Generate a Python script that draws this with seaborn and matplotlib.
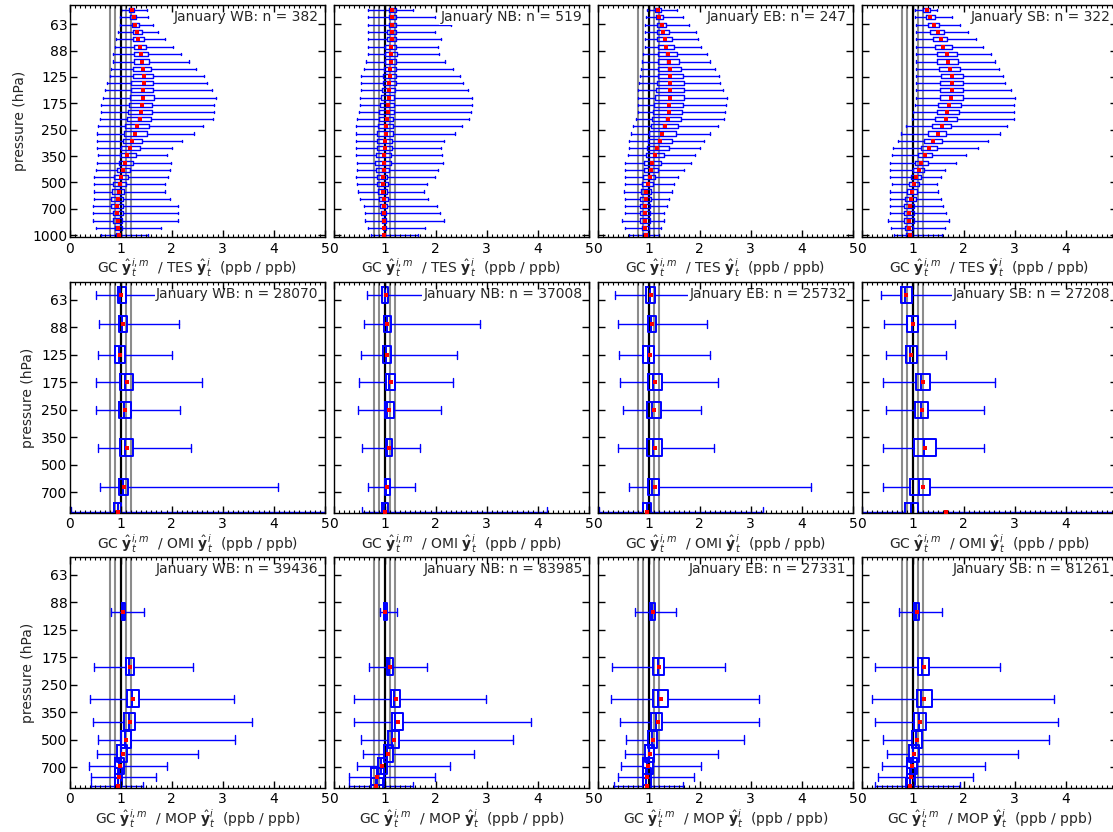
import matplotlib
matplotlib.use("Agg")
import matplotlib.pyplot as plt
from matplotlib.ticker import MultipleLocator, NullLocator
import seaborn as sns

# pressure levels (hPa) of each instrument
tes_levels = [1000, 909, 826, 751, 683, 621, 564, 513, 467, 424, 386, 350, 319, 290, 263, 239,
              218, 198, 180, 164, 149, 135, 123, 112, 102, 92, 84, 76, 69, 63, 57, 52]
omi_levels = [59, 85, 125, 177, 252, 406, 666, 905]
mop_levels = [100, 200, 300, 400, 500, 600, 700, 800, 900]

regions = ["WB", "NB", "EB", "SB"]
instruments = ["TES", "OMI", "MOP"]
tes_n = [382, 519, 247, 322]
omi_n = [28070, 37008, 25732, 27208]
mop_n = [39436, 83985, 27331, 81261]

pressure_ticks = [1000, 707.1, 500, 353.6, 250, 176.8, 125, 88.4, 62.5]
pressure_labels = ["1000", "700", "500", "350", "250", "175", "125", "88", "63"]

# ---- TES, ratio GC / TES (bottom level first)
tes_wb_lo = [0.61, 0.51, 0.46, 0.46, 0.46, 0.47, 0.47, 0.47, 0.47, 0.51, 0.54, 0.55, 0.54, 0.54, 0.54, 0.55,
             0.59, 0.61, 0.62, 0.65, 0.70, 0.74, 0.79, 0.81, 0.86, 0.86, 0.90, 0.91, 0.94, 0.98, 0.98, 1.00]
tes_wb_q1 = [0.91, 0.89, 0.86, 0.85, 0.81, 0.81, 0.83, 0.86, 0.88, 0.92, 0.96, 0.98, 1.01, 1.04, 1.06, 1.09,
             1.13, 1.15, 1.17, 1.19, 1.21, 1.21, 1.24, 1.25, 1.26, 1.27, 1.27, 1.25, 1.25, 1.22, 1.19, 1.17]
tes_wb_med = [0.95, 0.94, 0.92, 0.91, 0.90, 0.91, 0.93, 0.95, 0.98, 1.02, 1.06, 1.10, 1.16, 1.21, 1.27, 1.31,
              1.35, 1.37, 1.40, 1.43, 1.43, 1.44, 1.44, 1.43, 1.40, 1.39, 1.36, 1.33, 1.30, 1.27, 1.25, 1.21]
tes_wb_q3 = [1.00, 1.02, 1.02, 1.05, 1.04, 1.04, 1.07, 1.11, 1.14, 1.19, 1.24, 1.30, 1.37, 1.42, 1.51, 1.55,
             1.60, 1.61, 1.62, 1.65, 1.64, 1.64, 1.63, 1.60, 1.56, 1.54, 1.49, 1.45, 1.41, 1.36, 1.31, 1.26]
tes_wb_hi = [1.53, 1.79, 2.13, 2.12, 2.12, 1.97, 1.86, 1.86, 1.93, 1.97, 1.99, 1.91, 2.00, 2.21, 2.44, 2.62,
             2.80, 2.82, 2.83, 2.87, 2.78, 2.70, 2.63, 2.48, 2.33, 2.19, 2.02, 1.87, 1.74, 1.64, 1.54, 1.52]
tes_wb_mean = [0.96, 0.94, 0.94, 0.93, 0.93, 0.94, 0.96, 0.98, 1.01, 1.04, 1.09, 1.13, 1.19, 1.22, 1.28, 1.33,
               1.37, 1.39, 1.41, 1.44, 1.44, 1.45, 1.45, 1.43, 1.41, 1.40, 1.37, 1.35, 1.32, 1.28, 1.26, 1.22]

tes_nb_lo = [0.73, 0.67, 0.62, 0.62, 0.59, 0.52, 0.47, 0.46, 0.44, 0.46, 0.46, 0.44, 0.44, 0.44, 0.44, 0.44,
             0.46, 0.49, 0.51, 0.51, 0.53, 0.53, 0.54, 0.60, 0.64, 0.68, 0.68, 0.68, 0.68, 0.68, 0.68, 0.68]
tes_nb_q1 = [0.96, 0.96, 0.95, 0.93, 0.91, 0.89, 0.87, 0.86, 0.85, 0.83, 0.82, 0.83, 0.85, 0.85, 0.86, 0.88,
             0.90, 0.90, 0.91, 0.93, 0.95, 0.96, 0.97, 0.98, 1.00, 1.00, 1.01, 1.04, 1.05, 1.08, 1.08, 1.08]
tes_nb_med = [0.99, 0.99, 0.98, 0.97, 0.96, 0.95, 0.94, 0.94, 0.94, 0.95, 0.96, 0.97, 0.99, 0.99, 1.00, 1.01,
              1.03, 1.04, 1.05, 1.06, 1.07, 1.07, 1.08, 1.09, 1.10, 1.10, 1.11, 1.12, 1.12, 1.14, 1.14, 1.14]
tes_nb_q3 = [1.01, 1.02, 1.02, 1.02, 1.04, 1.06, 1.05, 1.06, 1.05, 1.08, 1.12, 1.12, 1.14, 1.14, 1.16, 1.16,
             1.17, 1.19, 1.19, 1.19, 1.21, 1.22, 1.22, 1.22, 1.23, 1.24, 1.22, 1.22, 1.22, 1.22, 1.22, 1.22]
tes_nb_hi = [1.65, 1.79, 2.17, 2.09, 2.02, 1.85, 1.77, 1.83, 1.98, 2.05, 2.15, 2.12, 2.10, 2.17, 2.37, 2.51,
             2.66, 2.69, 2.71, 2.71, 2.63, 2.54, 2.48, 2.33, 2.19, 2.07, 2.04, 2.10, 1.99, 2.30, 1.99, 1.55]
tes_nb_mean = [0.99, 0.99, 0.99, 0.98, 0.98, 0.98, 0.97, 0.97, 0.97, 0.98, 0.99, 0.99, 1.01, 1.01, 1.02, 1.03,
               1.04, 1.06, 1.06, 1.08, 1.08, 1.09, 1.10, 1.11, 1.12, 1.12, 1.13, 1.14, 1.14, 1.15, 1.15, 1.15]

tes_eb_lo = [0.61, 0.54, 0.48, 0.53, 0.53, 0.53, 0.52, 0.54, 0.53, 0.53, 0.54, 0.59, 0.62, 0.62, 0.65, 0.70,
             0.75, 0.79, 0.79, 0.79, 0.80, 0.82, 0.83, 0.85, 0.88, 0.90, 0.92, 0.92, 0.92, 0.93, 0.95, 0.96]
tes_eb_q1 = [0.90, 0.88, 0.83, 0.83, 0.83, 0.83, 0.85, 0.88, 0.90, 0.91, 0.91, 0.94, 0.96, 0.98, 1.00, 1.04,
             1.07, 1.08, 1.11, 1.13, 1.15, 1.17, 1.18, 1.19, 1.19, 1.18, 1.18, 1.16, 1.16, 1.16, 1.14, 1.13]
tes_eb_med = [0.94, 0.93, 0.91, 0.91, 0.92, 0.93, 0.94, 0.96, 1.00, 1.02, 1.05, 1.10, 1.14, 1.19, 1.24, 1.29,
              1.34, 1.37, 1.38, 1.39, 1.39, 1.39, 1.39, 1.38, 1.36, 1.35, 1.33, 1.30, 1.28, 1.25, 1.20, 1.18]
tes_eb_q3 = [0.98, 1.00, 1.02, 1.02, 1.03, 1.04, 1.05, 1.08, 1.13, 1.18, 1.24, 1.31, 1.39, 1.45, 1.53, 1.58,
             1.63, 1.66, 1.68, 1.70, 1.70, 1.69, 1.68, 1.64, 1.60, 1.56, 1.50, 1.45, 1.40, 1.34, 1.29, 1.24]
tes_eb_hi = [1.21, 1.24, 1.30, 1.30, 1.36, 1.39, 1.45, 1.50, 1.58, 1.70, 1.82, 1.91, 2.01, 2.08, 2.21, 2.35,
             2.48, 2.49, 2.51, 2.53, 2.46, 2.40, 2.38, 2.30, 2.21, 2.15, 2.03, 1.97, 1.92, 1.79, 1.67, 1.56]
tes_eb_mean = [0.94, 0.93, 0.92, 0.93, 0.93, 0.94, 0.95, 0.98, 1.02, 1.04, 1.07, 1.13, 1.17, 1.22, 1.27, 1.32,
               1.37, 1.40, 1.40, 1.42, 1.42, 1.42, 1.42, 1.41, 1.39, 1.37, 1.35, 1.32, 1.29, 1.26, 1.21, 1.19]

tes_sb_lo = [0.64, 0.57, 0.51, 0.55, 0.55, 0.55, 0.55, 0.59, 0.55, 0.55, 0.55, 0.59, 0.62, 0.72, 0.78, 0.88,
             0.98, 1.01, 1.04, 1.06, 1.06, 1.06, 1.06, 1.06, 1.06, 1.06, 1.06, 1.06, 1.06, 1.06, 1.04, 1.04]
tes_sb_q1 = [0.88, 0.86, 0.83, 0.83, 0.83, 0.86, 0.89, 0.93, 0.97, 1.01, 1.04, 1.11, 1.16, 1.22, 1.30, 1.37,
             1.44, 1.47, 1.50, 1.53, 1.53, 1.53, 1.55, 1.52, 1.48, 1.48, 1.44, 1.39, 1.35, 1.30, 1.26, 1.21]
tes_sb_med = [0.94, 0.92, 0.92, 0.92, 0.94, 0.95, 0.98, 1.01, 1.05, 1.10, 1.15, 1.23, 1.30, 1.38, 1.47, 1.55,
              1.63, 1.67, 1.71, 1.74, 1.75, 1.76, 1.76, 1.73, 1.69, 1.66, 1.59, 1.54, 1.48, 1.41, 1.34, 1.28]
tes_sb_q3 = [0.98, 1.01, 1.02, 1.03, 1.03, 1.06, 1.09, 1.13, 1.17, 1.23, 1.30, 1.38, 1.47, 1.57, 1.66, 1.76,
             1.86, 1.91, 1.94, 1.99, 1.98, 1.98, 1.99, 1.93, 1.89, 1.86, 1.77, 1.68, 1.62, 1.52, 1.43, 1.34]
tes_sb_hi = [1.58, 1.63, 1.72, 1.66, 1.60, 1.55, 1.50, 1.48, 1.55, 1.63, 1.85, 2.05, 2.28, 2.48, 2.71, 2.85,
             2.99, 2.99, 2.99, 3.01, 2.92, 2.81, 2.76, 2.69, 2.62, 2.54, 2.38, 2.24, 2.09, 1.92, 1.77, 1.47]
tes_sb_mean = [0.95, 0.93, 0.93, 0.93, 0.95, 0.96, 0.99, 1.02, 1.06, 1.12, 1.17, 1.25, 1.32, 1.40, 1.49, 1.57,
               1.65, 1.68, 1.72, 1.75, 1.77, 1.77, 1.77, 1.74, 1.70, 1.67, 1.60, 1.55, 1.49, 1.42, 1.34, 1.29]

# ---- OMI, ratio GC / OMI (top level first)
omi_wb_lo = [0.52, 0.57, 0.55, 0.52, 0.52, 0.55, 0.60, 0.02]
omi_wb_q1 = [0.95, 0.96, 0.89, 0.98, 0.96, 0.98, 0.96, 0.88]
omi_wb_med = [0.99, 1.02, 0.97, 1.08, 1.06, 1.09, 1.04, 0.94]
omi_wb_q3 = [1.10, 1.12, 1.08, 1.24, 1.21, 1.25, 1.14, 1.01]
omi_wb_hi = [2.30, 2.15, 2.00, 2.59, 2.17, 2.38, 4.09, 5.50]
omi_wb_mean = [1.01, 1.04, 0.99, 1.12, 1.09, 1.12, 1.07, 0.95]

omi_nb_lo = [0.65, 0.59, 0.54, 0.49, 0.48, 0.56, 0.67, 0.55]
omi_nb_q1 = [0.94, 0.99, 0.96, 1.03, 1.01, 1.02, 1.00, 0.95]
omi_nb_med = [1.00, 1.04, 1.02, 1.08, 1.05, 1.05, 1.03, 0.99]
omi_nb_q3 = [1.06, 1.12, 1.13, 1.21, 1.18, 1.15, 1.10, 1.06]
omi_nb_hi = [2.20, 2.86, 2.41, 2.33, 2.11, 1.70, 1.59, 4.17]
omi_nb_mean = [1.02, 1.05, 1.05, 1.12, 1.09, 1.08, 1.05, 1.00]

omi_eb_lo = [0.35, 0.41, 0.42, 0.45, 0.50, 0.41, 0.62, 0.02]
omi_eb_q1 = [0.95, 0.98, 0.90, 0.98, 0.97, 0.97, 0.98, 0.90]
omi_eb_med = [1.02, 1.05, 0.98, 1.08, 1.06, 1.08, 1.06, 0.96]
omi_eb_q3 = [1.12, 1.15, 1.10, 1.26, 1.24, 1.26, 1.20, 1.04]
omi_eb_hi = [2.30, 2.15, 2.21, 2.35, 2.03, 2.28, 4.17, 3.24]
omi_eb_mean = [1.04, 1.07, 1.02, 1.12, 1.10, 1.12, 1.12, 0.96]

omi_sb_lo = [0.38, 0.44, 0.48, 0.42, 0.48, 0.42, 0.42, 0.00]
omi_sb_q1 = [0.78, 0.89, 0.87, 1.06, 1.05, 1.02, 0.95, 0.85]
omi_sb_med = [0.86, 0.98, 0.94, 1.17, 1.17, 1.22, 1.12, 0.97]
omi_sb_q3 = [0.98, 1.11, 1.08, 1.34, 1.30, 1.45, 1.34, 1.10]
omi_sb_hi = [2.00, 1.83, 1.66, 2.61, 2.39, 2.40, 5.50, 5.50]
omi_sb_mean = [0.88, 1.00, 0.97, 1.21, 1.18, 1.25, 1.21, 1.65]

# ---- MOPITT, ratio GC / MOP (top level first)
mop_wb_lo = [0.82, 0.48, 0.41, 0.46, 0.55, 0.54, 0.39, 0.43, 0.42]
mop_wb_q1 = [1.02, 1.10, 1.12, 1.06, 1.00, 0.93, 0.90, 0.90, 0.90]
mop_wb_med = [1.05, 1.16, 1.22, 1.17, 1.08, 1.00, 0.97, 0.95, 0.94]
mop_wb_q3 = [1.08, 1.26, 1.36, 1.29, 1.20, 1.13, 1.07, 1.02, 1.00]
mop_wb_hi = [1.45, 2.42, 3.21, 3.58, 3.24, 2.52, 1.91, 1.69, 1.44]
mop_wb_mean = [1.05, 1.18, 1.25, 1.19, 1.10, 1.04, 0.99, 0.96, 0.94]

mop_nb_lo = [0.91, 0.69, 0.41, 0.41, 0.54, 0.57, 0.46, 0.31, 0.31]
mop_nb_q1 = [0.98, 1.05, 1.13, 1.14, 1.07, 0.99, 0.87, 0.74, 0.74]
mop_nb_med = [1.00, 1.09, 1.19, 1.20, 1.15, 1.05, 0.93, 0.85, 0.84]
mop_nb_q3 = [1.04, 1.16, 1.31, 1.36, 1.28, 1.16, 1.04, 0.98, 0.96]
mop_nb_hi = [1.24, 1.83, 2.99, 3.86, 3.52, 2.74, 2.28, 1.98, 1.55]
mop_nb_mean = [1.01, 1.11, 1.23, 1.26, 1.19, 1.07, 0.95, 0.85, 0.84]

mop_eb_lo = [0.73, 0.29, 0.27, 0.44, 0.56, 0.53, 0.46, 0.40, 0.32]
mop_eb_q1 = [1.03, 1.08, 1.08, 1.05, 0.99, 0.92, 0.90, 0.89, 0.89]
mop_eb_med = [1.07, 1.19, 1.18, 1.14, 1.07, 1.00, 0.97, 0.95, 0.95]
mop_eb_q3 = [1.12, 1.31, 1.38, 1.27, 1.16, 1.11, 1.08, 1.05, 1.05]
mop_eb_hi = [1.54, 2.49, 3.16, 3.16, 2.87, 2.35, 2.03, 1.89, 1.68]
mop_eb_mean = [1.08, 1.21, 1.25, 1.18, 1.08, 1.03, 0.99, 0.97, 0.96]

mop_sb_lo = [0.73, 0.27, 0.20, 0.27, 0.43, 0.49, 0.41, 0.33, 0.26]
mop_sb_q1 = [1.03, 1.10, 1.08, 1.03, 0.98, 0.93, 0.90, 0.89, 0.88]
mop_sb_med = [1.07, 1.19, 1.17, 1.12, 1.06, 1.00, 0.97, 0.95, 0.94]
mop_sb_q3 = [1.13, 1.33, 1.37, 1.26, 1.18, 1.12, 1.08, 1.05, 1.03]
mop_sb_hi = [1.57, 2.72, 3.76, 3.84, 3.67, 3.07, 2.41, 2.18, 1.92]
mop_sb_mean = [1.08, 1.22, 1.23, 1.15, 1.08, 1.02, 0.98, 0.97, 0.95]

panels = {
    ("TES", "WB"): (tes_wb_lo, tes_wb_q1, tes_wb_med, tes_wb_q3, tes_wb_hi, tes_wb_mean),
    ("TES", "NB"): (tes_nb_lo, tes_nb_q1, tes_nb_med, tes_nb_q3, tes_nb_hi, tes_nb_mean),
    ("TES", "EB"): (tes_eb_lo, tes_eb_q1, tes_eb_med, tes_eb_q3, tes_eb_hi, tes_eb_mean),
    ("TES", "SB"): (tes_sb_lo, tes_sb_q1, tes_sb_med, tes_sb_q3, tes_sb_hi, tes_sb_mean),
    ("OMI", "WB"): (omi_wb_lo, omi_wb_q1, omi_wb_med, omi_wb_q3, omi_wb_hi, omi_wb_mean),
    ("OMI", "NB"): (omi_nb_lo, omi_nb_q1, omi_nb_med, omi_nb_q3, omi_nb_hi, omi_nb_mean),
    ("OMI", "EB"): (omi_eb_lo, omi_eb_q1, omi_eb_med, omi_eb_q3, omi_eb_hi, omi_eb_mean),
    ("OMI", "SB"): (omi_sb_lo, omi_sb_q1, omi_sb_med, omi_sb_q3, omi_sb_hi, omi_sb_mean),
    ("MOP", "WB"): (mop_wb_lo, mop_wb_q1, mop_wb_med, mop_wb_q3, mop_wb_hi, mop_wb_mean),
    ("MOP", "NB"): (mop_nb_lo, mop_nb_q1, mop_nb_med, mop_nb_q3, mop_nb_hi, mop_nb_mean),
    ("MOP", "EB"): (mop_eb_lo, mop_eb_q1, mop_eb_med, mop_eb_q3, mop_eb_hi, mop_eb_mean),
    ("MOP", "SB"): (mop_sb_lo, mop_sb_q1, mop_sb_med, mop_sb_q3, mop_sb_hi, mop_sb_mean),
}
levels_by_inst = {"TES": tes_levels, "OMI": omi_levels, "MOP": mop_levels}
n_by_inst = {"TES": tes_n, "OMI": omi_n, "MOP": mop_n}

sns.set_theme(context="notebook", style="ticks", rc={
    "font.size": 10, "axes.labelsize": 10, "xtick.labelsize": 10, "ytick.labelsize": 10,
    "axes.edgecolor": "black", "axes.linewidth": 1.0,
    "xtick.direction": "in", "ytick.direction": "in",
    "xtick.color": "black", "ytick.color": "black",
    "xtick.major.size": 5, "ytick.major.size": 5, "xtick.minor.size": 2.5,
    "xtick.major.width": 1, "ytick.major.width": 1, "xtick.minor.width": 0.8,
})
plt.rcParams["font.family"] = ["DejaVu Sans"]

fig = plt.figure(figsize=(11.13, 8.32), dpi=100)
W, H = 1113.0, 832.0

# panel geometry in pixels (last column runs past the right edge like the original crop)
col_left = [69.5, 333.5, 597.5, 861.5]
col_width = 255.5
row_top = [5.0, 282.3, 557.3]
row_bottom = [237.3, 512.6, 787.6]
row_ylim = [(1030, 48.5), (915, 50), (915, 50)]
box_frac = [0.055, 0.21, 0.21]
box_lw = [1.0, 1.4, 1.4]

for r, inst in enumerate(instruments):
    levels = levels_by_inst[inst]
    for c, reg in enumerate(regions):
        ax = fig.add_axes([col_left[c] / W, (H - row_bottom[r]) / H,
                           col_width / W, (row_bottom[r] - row_top[r]) / H])
        lo, q1, med, q3, hi, mean = panels[(inst, reg)]

        for xv in [0.8, 0.9, 1.1, 1.2]:
            ax.axvline(xv, color="0.55", lw=1.5, zorder=1)
        ax.axvline(1.0, color="black", lw=1.6, zorder=1)

        stats = []
        for i in range(len(levels)):
            stats.append(dict(whislo=lo[i], q1=q1[i], med=med[i], q3=q3[i], whishi=hi[i], fliers=[]))
        ax.set_yscale("log")
        ax.bxp(stats, positions=levels, widths=[box_frac[r] * p for p in levels],
               orientation="horizontal", showfliers=False, manage_ticks=False,
               boxprops=dict(color="blue", linewidth=box_lw[r]),
               medianprops=dict(color="blue", linewidth=box_lw[r]),
               whiskerprops=dict(color="blue", linewidth=1.0),
               capprops=dict(color="blue", linewidth=1.0))
        sns.scatterplot(x=mean, y=levels, ax=ax, color="red", marker="s", s=7,
                        linewidth=0, zorder=4)

        ax.set_yticks(pressure_ticks)
        ax.set_yticklabels(pressure_labels)
        ax.yaxis.set_minor_locator(NullLocator())
        ax.set_xlim(0, 5)
        ax.set_ylim(*row_ylim[r])
        ax.xaxis.set_major_locator(MultipleLocator(1))
        ax.xaxis.set_minor_locator(MultipleLocator(0.1))
        ax.tick_params(which="both", top=True, right=True)
        ax.tick_params(axis="y", pad=1.5)
        ax.set_axisbelow(False)
        for sp in ax.spines.values():
            sp.set_color("black")
            sp.set_linewidth(1.0)

        ax.set_xlabel(r"GC $\hat{\mathbf{y}}_t^{i,m}$  / " + inst + r" $\hat{\mathbf{y}}_t^{i}$  (ppb / ppb)",
                      labelpad=0.5)
        if c == 0:
            ax.set_ylabel("pressure (hPa)")
        else:
            ax.set_ylabel("")
            ax.tick_params(axis="y", labelleft=False)

        ax.text(0.975, 0.978, f"January {reg}: n = {n_by_inst[inst][c]}", transform=ax.transAxes,
                ha="right", va="top", fontsize=10, zorder=2.3,
                bbox=dict(facecolor="white", edgecolor="none", pad=1.0))

fig.savefig("out.png", dpi=100)
